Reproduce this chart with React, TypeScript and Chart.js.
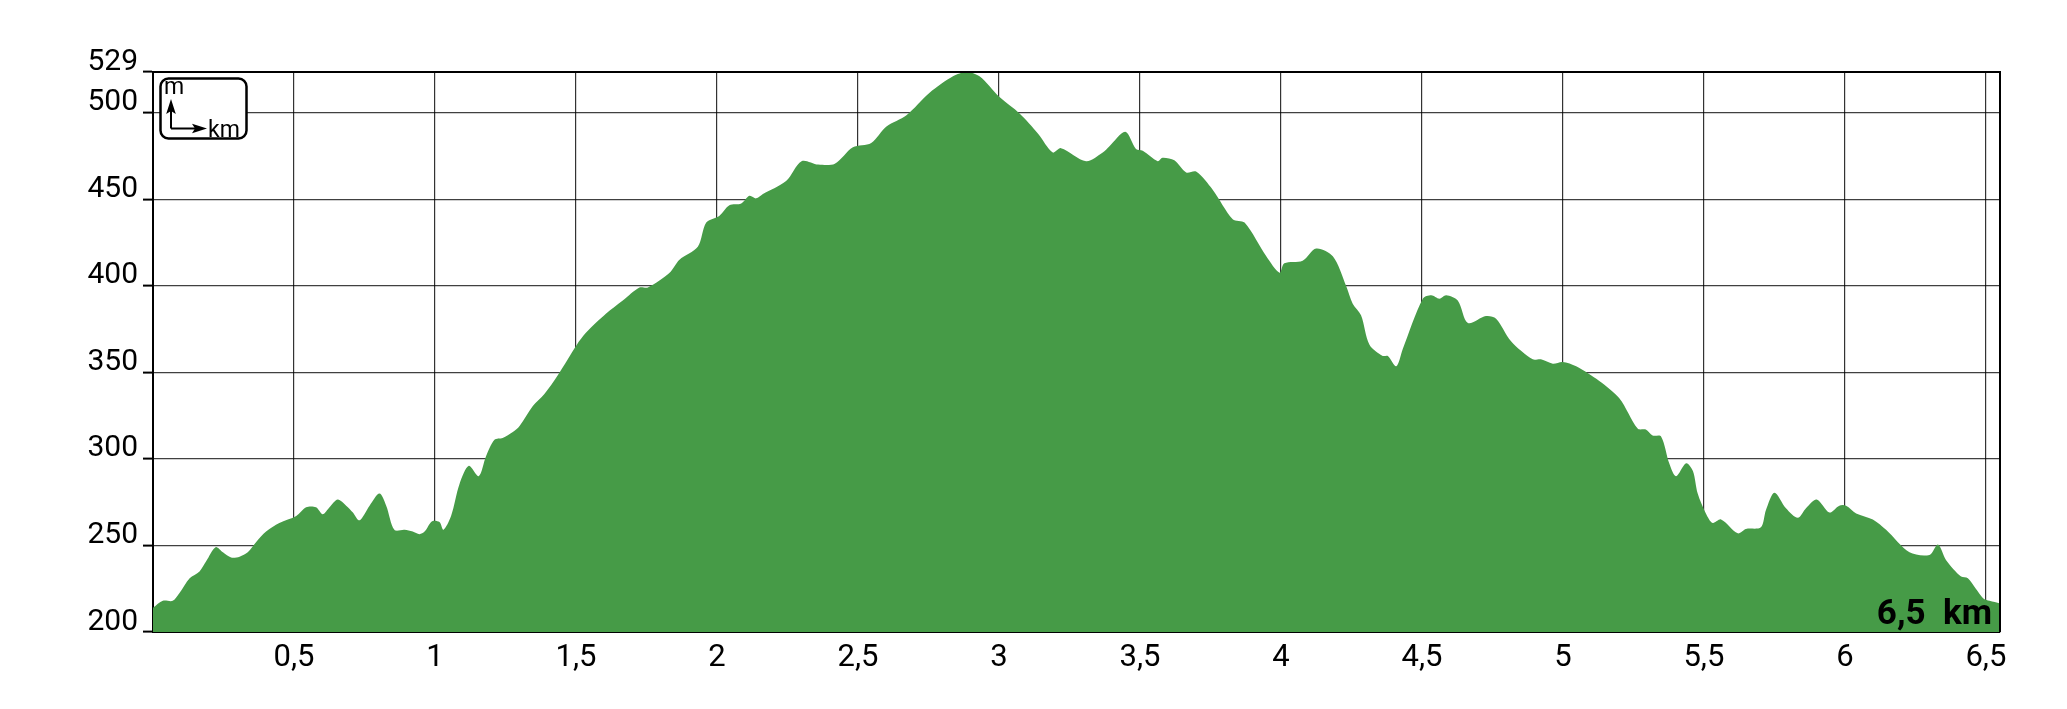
import React, { useEffect, useRef } from "react";
import { Chart, registerables } from "chart.js";

Chart.register(...registerables);

// ---- data (distance in km, elevation in m) ----
const DIST_KM = [
  0.0, 0.035, 0.07, 0.094, 0.13, 0.165, 0.189, 0.222, 0.248, 0.277, 0.307, 0.336, 0.366, 0.401, 0.448,
  0.508, 0.543, 0.578, 0.602, 0.626, 0.655, 0.685, 0.709, 0.732, 0.768, 0.803, 0.827, 0.856, 0.892, 0.921,
  0.945, 0.963, 0.99, 1.016, 1.03, 1.057, 1.087, 1.12, 1.155, 1.181, 1.211, 1.24, 1.276, 1.3, 1.347,
  1.388, 1.436, 1.503, 1.536, 1.607, 1.666, 1.725, 1.755, 1.832, 1.867, 1.932, 1.962, 2.009, 2.044, 2.086,
  2.115, 2.139, 2.163, 2.245, 2.3, 2.359, 2.418, 2.482, 2.547, 2.601, 2.672, 2.754, 2.837, 2.885, 2.931,
  3.002, 3.073, 3.138, 3.191, 3.22, 3.309, 3.368, 3.391, 3.448, 3.486, 3.51, 3.563, 3.58, 3.622, 3.664,
  3.699, 3.758, 3.829, 3.871, 3.948, 3.995, 4.012, 4.077, 4.125, 4.184, 4.231, 4.255, 4.284, 4.314, 4.361,
  4.379, 4.409, 4.432, 4.503, 4.533, 4.562, 4.586, 4.627, 4.663, 4.727, 4.763, 4.816, 4.893, 4.922, 4.964,
  4.999, 5.047, 5.129, 5.2, 5.265, 5.294, 5.318, 5.348, 5.377, 5.401, 5.437, 5.461, 5.478, 5.507, 5.531,
  5.561, 5.62, 5.649, 5.702, 5.72, 5.75, 5.791, 5.833, 5.862, 5.9, 5.945, 5.98, 6.004, 6.04, 6.099,
  6.146, 6.229, 6.3, 6.33, 6.359, 6.412, 6.436, 6.49, 6.513, 6.55,
];
const ELEV_M = [
  214, 218, 218, 222.5, 231, 235, 241, 249, 246, 243, 243.5, 246, 252, 258, 263,
  267, 272, 272, 268, 272, 276.5, 273, 269, 264.5, 273, 280, 273, 259, 259, 258,
  256.5, 258, 264, 263.5, 259, 267, 285.5, 296, 290, 301.5, 311, 312, 315.5, 319, 330.5,
  337.5, 348.5, 366, 373, 384, 391.5, 399, 399, 407.5, 415, 422.5, 436.5, 440.5, 446.5, 447.5,
  452, 450.5, 453, 460.5, 472, 470, 470.5, 480, 482.5, 492, 498.5, 511.5, 521, 523.5, 521,
  509, 499.5, 488, 477, 479.5, 472, 477, 480.5, 489, 479, 478, 472, 474, 472.5, 465.5,
  466, 455.5, 438.5, 436.5, 417, 407.5, 413, 414.5, 421.5, 417, 400, 389.5, 383, 366, 359.5,
  359.5, 353.5, 363.5, 392.5, 394.5, 392.5, 394.5, 391.5, 378.5, 382.5, 381, 368, 357.5, 357.5, 355,
  356, 353.5, 345, 335, 317.5, 317, 313.5, 313, 297.5, 290, 297.5, 293, 280, 268.5, 263,
  265, 257, 259.5, 260.5, 270.5, 280.5, 271.5, 266, 271.5, 276.5, 269, 273, 273, 268.5, 265,
  259, 246, 244.5, 250.5, 241.5, 232, 231, 219.5, 218, 216.5,
];

const X_TICKS = [0, 0.5, 1, 1.5, 2, 2.5, 3, 3.5, 4, 4.5, 5, 5.5, 6, 6.5];
const X_TICK_LABELS = ["", "0,5", "1", "1,5", "2", "2,5", "3", "3,5", "4", "4,5", "5", "5,5", "6", "6,5"];
const Y_TICKS = [200, 250, 300, 350, 400, 450, 500, 523.5];
const Y_TICK_LABELS = ["200", "250", "300", "350", "400", "450", "500", "529"];
const X_MIN = 0;
const X_MAX = 6.55;
const Y_MIN = 200;
const Y_MAX = 523.5;
const TOTAL_LABEL = "6,5  km";
const UNIT_Y = "m";
const UNIT_X = "km";

const GREEN = "#469b47";
const FONT = "Roboto, 'DejaVu Sans', sans-serif";

const decorPlugin = {
  id: "decor",
  afterDraw(chart: any) {
    const { ctx, chartArea: a } = chart;
    ctx.save();
    // top and right frame
    ctx.strokeStyle = "#000";
    ctx.lineWidth = 2;
    ctx.beginPath();
    ctx.moveTo(a.left, a.top);
    ctx.lineTo(a.right, a.top);
    ctx.lineTo(a.right, a.bottom);
    ctx.stroke();

    // unit legend box
    const bx = a.left + 7.5;
    const by = a.top + 6.5;
    const bw = 86;
    const bh = 60;
    ctx.beginPath();
    ctx.roundRect(bx, by, bw, bh, 8);
    ctx.fillStyle = "#fff";
    ctx.fill();
    ctx.lineWidth = 2.5;
    ctx.strokeStyle = "#000";
    ctx.stroke();

    const ox = a.left + 18;
    const oy = a.top + 56.5;
    ctx.lineWidth = 2;
    ctx.beginPath();
    ctx.moveTo(ox, oy);
    ctx.lineTo(ox, a.top + 38);
    ctx.moveTo(ox, oy);
    ctx.lineTo(a.left + 42, oy);
    ctx.stroke();
    ctx.fillStyle = "#000";
    ctx.beginPath();
    ctx.moveTo(ox, a.top + 27);
    ctx.lineTo(ox - 4.8, a.top + 42);
    ctx.lineTo(ox, a.top + 39);
    ctx.lineTo(ox + 4.8, a.top + 42);
    ctx.closePath();
    ctx.fill();
    ctx.beginPath();
    ctx.moveTo(a.left + 54, oy);
    ctx.lineTo(a.left + 39, oy - 4.8);
    ctx.lineTo(a.left + 42, oy);
    ctx.lineTo(a.left + 39, oy + 4.8);
    ctx.closePath();
    ctx.fill();

    ctx.font = `23px ${FONT}`;
    ctx.textAlign = "left";
    ctx.textBaseline = "alphabetic";
    ctx.fillText(UNIT_Y, a.left + 11, a.top + 22);
    ctx.fillText(UNIT_X, a.left + 55, a.top + 64.5);

    // total distance label
    ctx.font = `bold 35px ${FONT}`;
    ctx.textAlign = "right";
    ctx.fillText(TOTAL_LABEL, a.right - 8, a.bottom - 8);
    ctx.restore();
  },
};

export default function App() {
  const canvasRef = useRef<HTMLCanvasElement | null>(null);

  useEffect(() => {
    document.body.style.margin = "0";
    const canvas = canvasRef.current;
    if (!canvas) return;
    const points = DIST_KM.map((x, i) => ({ x, y: ELEV_M[i] }));
    const chart = new Chart(canvas, {
      type: "line",
      data: {
        datasets: [
          {
            data: points,
            fill: "start",
            backgroundColor: GREEN,
            borderWidth: 0,
            borderColor: GREEN,
            pointRadius: 0,
            tension: 0.3,
          },
        ],
      },
      options: {
        animation: false,
        responsive: false,
        maintainAspectRatio: false,
        events: [],
        layout: { padding: { left: 0, top: 72, right: 67, bottom: 0 } },
        plugins: {
          legend: { display: false },
          tooltip: { enabled: false },
          title: { display: false },
        },
        scales: {
          x: {
            type: "linear",
            min: X_MIN,
            max: X_MAX,
            z: 1,
            afterBuildTicks: (scale: any) => {
              scale.ticks = X_TICKS.map((v) => ({ value: v }));
            },
            afterFit: (scale: any) => {
              scale.height = 77;
            },
            grid: {
              color: "rgba(0,0,0,0.8)",
              lineWidth: 1.2,
              drawTicks: false,
            },
            border: { display: true, color: "#000", width: 2 },
            ticks: {
              autoSkip: false,
              maxRotation: 0,
              padding: 8,
              color: "#000",
              font: { family: FONT, size: 31 },
              callback: (value: any) => {
                const i = X_TICKS.findIndex((t) => Math.abs(t - Number(value)) < 1e-6);
                return i >= 0 ? X_TICK_LABELS[i] : "";
              },
            },
          },
          y: {
            type: "linear",
            min: Y_MIN,
            max: Y_MAX,
            z: 1,
            afterBuildTicks: (scale: any) => {
              scale.ticks = Y_TICKS.map((v) => ({ value: v }));
            },
            afterFit: (scale: any) => {
              scale.width = 153;
            },
            grid: {
              color: "rgba(0,0,0,0.75)",
              lineWidth: 1.2,
              drawTicks: true,
              tickLength: 10,
              tickColor: "#000",
              tickWidth: 2,
            },
            border: { display: true, color: "#000", width: 2 },
            ticks: {
              autoSkip: false,
              padding: 5,
              labelOffset: -10,
              color: "#000",
              font: { family: FONT, size: 30 },
              callback: (value: any) => {
                const i = Y_TICKS.findIndex((t) => Math.abs(t - Number(value)) < 1e-6);
                return i >= 0 ? Y_TICK_LABELS[i] : "";
              },
            },
          },
        },
      },
      plugins: [decorPlugin],
    } as any);
    return () => chart.destroy();
  }, []);

  return (
    <div style={{ width: 2067, height: 709, position: "relative", background: "#fff" }}>
      <canvas ref={canvasRef} width={2067} height={709} style={{ display: "block" }} />
    </div>
  );
}
